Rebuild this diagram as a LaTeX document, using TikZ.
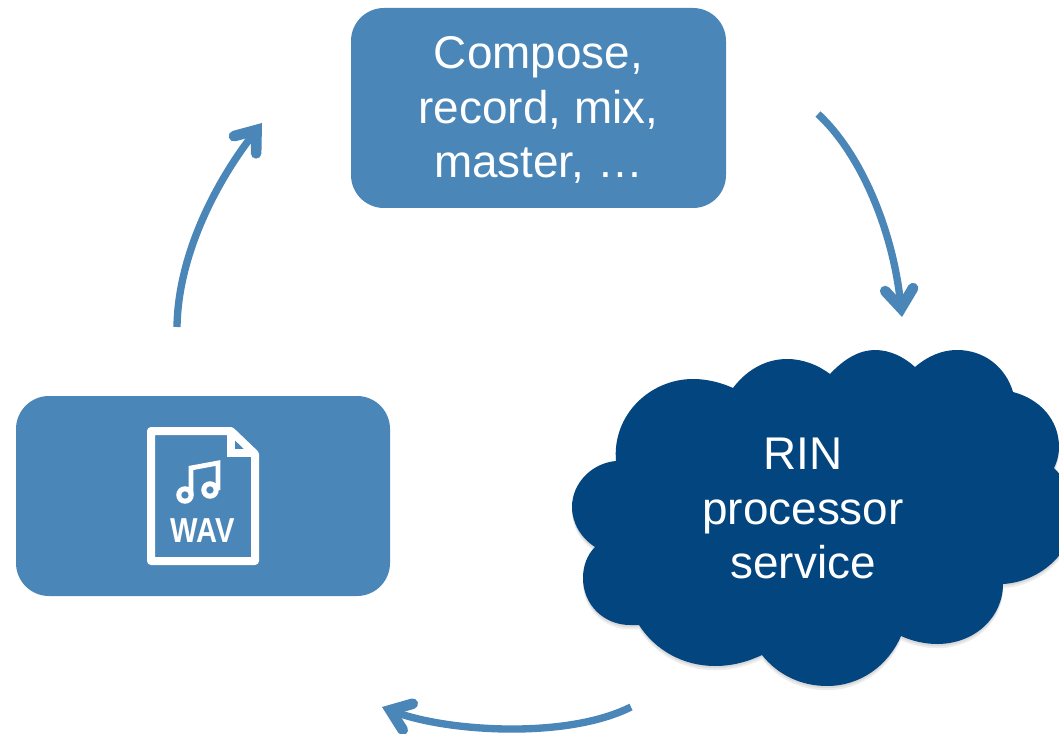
\documentclass[tikz,border=0pt]{standalone}
\usepackage{fontspec}
\setmainfont{Liberation Sans}
\usetikzlibrary{arrows.meta}
\definecolor{midblue}{HTML}{4A86B7}
\definecolor{darkblue}{HTML}{03457F}
\tikzset{
  box/.style={fill=midblue,rounded corners=24.75pt},
  label/.style={text=white,align=center,inner sep=0pt,font=\fontsize{34.4}{40.8}\selectfont},
  flow/.style={draw=midblue,line width=5.5pt,
    -{Straight Barb[length=14pt,width=21pt,line width=8pt,line cap=round,line join=miter]}},
  iconline/.style={draw=white,line width=6pt,line join=round},
  noteline/.style={draw=white,line width=3.6pt,line join=miter}
}
\newcommand{\cloudoutline}{
  (616,461) .. controls (612,415) and (650,379) .. (693,379)
  .. controls (708,379) and (722,383) .. (733,388)
  .. controls (748,368) and (768,359) .. (787,359)
  .. controls (803,359) and (818,365) .. (830,374)
  .. controls (845,358) and (860,350) .. (875,350)
  .. controls (890,350) and (904,357) .. (915,367)
  .. controls (928,356) and (942,350) .. (957,350)
  .. controls (985,350) and (1006,368) .. (1013,392)
  .. controls (1040,399) and (1059,420) .. (1059,447)
  .. controls (1059,455) and (1057,462) .. (1054,468)
  .. controls (1066,480) and (1075,495) .. (1075,512)
  .. controls (1075,552) and (1040,582) .. (1003,584)
  .. controls (1003,617) and (975,644) .. (937,644)
  .. controls (925,644) and (912,641) .. (901,636)
  .. controls (888,666) and (860,686) .. (827,686)
  .. controls (800,686) and (777,674) .. (762,655)
  .. controls (747,662) and (732,666) .. (715,666)
  .. controls (683,666) and (655,650) .. (639,625)
  .. controls (634,625) and (632,625) .. (630,625)
  .. controls (604,625) and (583,605) .. (583,578)
  .. controls (583,566) and (587,555) .. (595,547)
  .. controls (581,538) and (572,523) .. (572,507)
  .. controls (572,483) and (592,463) .. (616,461) -- cycle}
\begin{document}
\begin{tikzpicture}[x=0.75pt,y=-0.75pt]
  \clip (0,0) rectangle (1059,734);
  \fill[white] (0,0) rectangle (1059,734);

  % soft shadow and cloud
  \fill[black,opacity=.07,yshift=-3.2pt] \cloudoutline;
  \fill[black,opacity=.08,yshift=-1.6pt] \cloudoutline;
  \fill[darkblue] \cloudoutline;

  % boxes
  \fill[box] (351,8) rectangle (726,208);
  \fill[box] (16,396) rectangle (390,596);

  % labels
  \node[label] (compose) at (538.5,110) {Compose,\\record, mix,\\master, \dots};
  \node[label] (rin) at (803,508.5) {RIN\\processor\\service};

  % WAV icon
  \draw[iconline] (151,431) -- (231,431) -- (255,454) -- (255,561) -- (151,561) -- cycle;
  \draw[iconline,line width=5.5pt,line join=miter] (231,431) -- (231,453) -- (255,453);
  \draw[draw=white,line width=3.8pt] (185,495) circle[radius=6.2];
  \draw[draw=white,line width=3.8pt] (210,490) circle[radius=6.2];
  \draw[noteline] (191,495) -- (191,468) -- (218,463) -- (218,490);
  \node[text=white,inner sep=0pt,transform shape,xscale=.84,
        font=\fontsize{26}{26}\selectfont\bfseries] (wav) at (203,531) {WAV};

  % connectors
  \coordinate (a1) at (177,327);  \coordinate (a2) at (262,123);
  \coordinate (b1) at (818,114);  \coordinate (b2) at (902,317);
  \coordinate (c1) at (631,707);  \coordinate (c2) at (382,707);
  \draw[flow] (a1) .. controls (178,255) and (216,182) .. (a2);
  \draw[flow] (b1) .. controls (862,155) and (893,232) .. (b2);
  \draw[flow] (c1) .. controls (565,740) and (445,731) .. (c2);
\end{tikzpicture}
\end{document}
